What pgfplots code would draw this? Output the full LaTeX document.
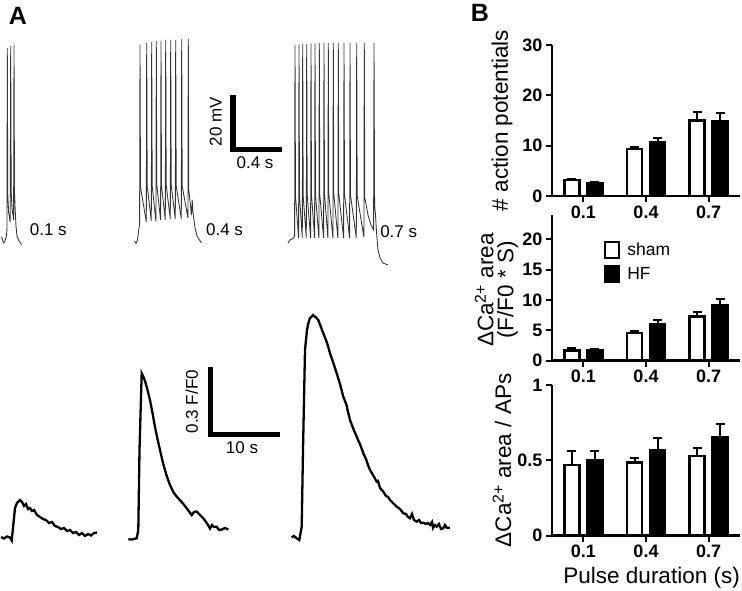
\documentclass[border=0pt]{standalone}
\usepackage{fontspec}
\setmainfont{Liberation Sans}
\usepackage{pgfplots}
\pgfplotsset{compat=1.18}

% shared look of the three bar panels in B
\pgfplotsset{
  barax/.style={
    scale only axis, width=188pt, anchor=south west,
    xmin=-0.5, xmax=2.5, ymin=0,
    axis x line*=bottom, axis y line*=left,
    axis line style={line width=2.5pt, black, -},
    xtick={0,1,2}, xticklabels={0.1,0.4,0.7},
    tick align=outside, major tick length=6pt,
    every tick/.style={black, line width=2pt},
    ticklabel style={font=\bfseries\fontsize{18}{18}\selectfont},
    /pgf/number format/assume math mode=true,
    ybar=8pt, bar width=15pt,
    label style={font=\fontsize{22.5}{20}\selectfont},
    ylabel style={at={(axis description cs:-0.266,0.5)}, anchor=center, align=center},
    clip=false,
  },
  sham/.style={fill=white, draw=black, line width=2.5pt,
    error bars/.cd, y dir=plus, y explicit,
    error bar style={line width=2pt, black},
    error mark options={rotate=90, mark size=4.5pt, line width=2pt, black}},
  hf/.style={fill=black, draw=black, line width=2.5pt,
    error bars/.cd, y dir=plus, y explicit,
    error bar style={line width=2pt, black},
    error mark options={rotate=90, mark size=4.5pt, line width=2pt, black}},
}

\begin{document}
\begin{tikzpicture}
\useasboundingbox (0,0) rectangle (742pt,591pt);

% ---- panel A: traces, in pixel units of the figure ----
\begin{axis}[at={(0,0)}, anchor=south west, scale only axis,
  width=742pt, height=591pt, xmin=0, xmax=742, ymin=0, ymax=591,
  y dir=reverse, hide axis, clip=false]

% action potentials, 0.1 s
\addplot[black!80, line width=0.85pt] coordinates {
 (1.5,237) (3.5,243) (5,241) (6.5,236) (7,228) (7.3,48) (7.8,195) (8.6,212)
 (10.2,222) (10.7,46) (11.2,192) (12,208) (13.6,220) (14,45) (14.5,192)
 (15.2,210) (16,226) (17,236) (18.5,240) (20.5,243) (21.5,245)};
% action potentials, 0.4 s
\addplot[black!80, line width=0.85pt] coordinates {
 (134.5,241) (136,243.5) (137.5,240) (138.5,232) (139.6,224) (140,45) (140.5,187)
 (146.3,222) (146.7,43) (147.2,186)
 (151.3,221) (151.7,42) (152.2,186)
 (155.9,221) (156.3,41) (156.8,185)
 (160.6,220) (161,41) (161.5,185)
 (165.3,220) (165.7,40) (166.2,185)
 (170.3,219) (170.7,40) (171.2,185)
 (175.3,219) (175.7,40) (176.2,186)
 (181.3,219) (181.7,39) (182.2,186)
 (187.9,218) (188.3,39) (188.8,190)
 (191.5,215) (192.2,200) (193,212) (195,228) (197,236) (199.5,240) (201.5,243)};
% action potentials, 0.7 s
\addplot[black!80, line width=0.85pt] coordinates {
 (288,243) (290,240) (292,239) (293.5,238) (294.6,236) (295,45) (295.5,196)
 (298.6,238) (299,44.5) (299.5,196)
 (302.3,238) (302.7,44) (303.2,196)
 (306.3,238) (306.7,44) (307.2,195)
 (310.6,238) (311,43.5) (311.5,195)
 (314.6,238) (315,43.5) (315.5,195)
 (318.9,238) (319.3,43) (319.8,195)
 (323.6,238) (324,43) (324.5,194)
 (327.9,238) (328.3,43) (328.8,194)
 (332.9,238) (333.3,43) (333.8,194)
 (337.9,238) (338.3,43) (338.8,194)
 (343.6,238) (344,43) (344.5,194)
 (349.6,238) (350,43) (350.5,195)
 (356.3,238) (356.7,43) (357.2,196)
 (363.9,237) (364.3,43) (364.8,198)
 (368,215) (371,225) (373.6,230) (374,43) (374.6,205)
 (375.5,215) (376.5,232) (378,250) (380,258) (383,263) (388,265)};

% calcium transients
\addplot[black, line width=2.3pt] coordinates {
 (1,537) (4,538.5) (7,536.5) (10,537.5) (11.7,540.5) (13,528) (15,508) (17,503)
 (20,500) (22,502) (24,506) (26,504) (28,509) (30,508) (32,511) (34,510) (37,515)
 (40,517) (43,519) (46,520) (49,523) (52,522) (55,526) (58,527) (61,529) (64,528)
 (67,531) (70,530) (73,533) (76,532) (79,535) (82,533) (85,536) (88,534)
 (91,535.5) (94,533) (97,532.5)};
\addplot[black, line width=2.3pt] coordinates {
 (128.3,539.3) (132,539.5) (136.7,538.3) (138.3,530) (139.5,450) (141.7,373.3)
 (143.5,377) (145,381) (147,388) (150,400) (152.5,413) (155,427) (157.5,439)
 (160,450) (163,463) (166.7,476) (170,485) (173.3,492) (177,497) (181.7,502)
 (185,506) (188,510) (191.7,515) (194,512) (196.7,511.5) (200,515) (203.3,518.3)
 (206,522) (208,525) (210,528.5) (212,525) (214,527) (216.7,526.7) (219,530)
 (221.7,529.5) (225,528) (228.3,529.5)};
\addplot[black, line width=2.3pt] coordinates {
 (291.7,537.3) (294,536) (296.7,538.3) (299.3,540) (301.7,526.7) (303,450)
 (305,350) (307,330) (308.3,323.3) (310,318) (311.7,316.7) (313,315) (315,316.7)
 (316.5,318) (318.3,320) (320.5,326) (323.3,333.3) (326,340) (328,346) (330,353.3)
 (333,362) (336.7,373.3) (340,384) (343.3,396.7) (345,401) (346.5,405) (348,412)
 (350,420) (353,428) (356.7,436.7) (358.5,441) (360,444) (363.3,453.3) (366,459)
 (368,465) (370,470) (373,475) (376.7,481.7) (378,481) (380,488) (383.3,491.7)
 (386,496) (388,497) (390,500) (393,503) (396.7,506.7) (400,509) (403.3,513.3)
 (406,514) (408,517) (410,518.3) (412,514) (414,520) (416.7,521.7) (419,520)
 (421,523) (423.3,522.7) (426,524) (428,523) (430,525) (432,522) (433,528)
 (435,525) (436.7,526.7) (439,524) (441,529) (443.3,528.3) (445,525) (447,528)
 (450,527.7)};

% scale bars
\addplot[black, line width=5.5pt, line cap=butt, line join=miter] coordinates {
 (233,95) (233,149.7) (282,149.7)};
\addplot[black, line width=4.5pt, line cap=butt, line join=miter] coordinates {
 (210.3,366.7) (210.3,434.5) (280,434.5)};

\node[font=\bfseries\fontsize{25}{25}\selectfont] at (axis cs:18,15.5) {A};
\node[font=\bfseries\fontsize{25}{25}\selectfont] at (axis cs:480,13) {B};
\node[font=\fontsize{17}{17}\selectfont] at (axis cs:48.3,230) {0.1 s};
\node[font=\fontsize{17}{17}\selectfont] at (axis cs:224.5,230) {0.4 s};
\node[font=\fontsize{17}{17}\selectfont] at (axis cs:398.7,231.7) {0.7 s};
\node[font=\fontsize{17}{17}\selectfont, rotate=90] at (axis cs:215.8,121.7) {20 mV};
\node[font=\fontsize{17}{17}\selectfont] at (axis cs:255,163) {0.4 s};
\node[font=\fontsize{17}{17}\selectfont, rotate=90] at (axis cs:191.7,401.7) {0.3 F/F0};
\node[font=\fontsize{17}{17}\selectfont] at (axis cs:242,448) {10 s};
\end{axis}

% ---- panel B, top: number of action potentials ----
\begin{axis}[barax, at={(552pt,395pt)}, height=151pt, ymax=30,
  ytick={0,10,20,30}, ylabel={\# action potentials}]
\addplot[sham] coordinates {(0,3.2) +- (0,0.15) (1,9.3) +- (0,0.5) (2,15.0) +- (0,1.7)};
\addplot[hf] coordinates {(0,2.6) +- (0,0.2) (1,10.7) +- (0,0.9) (2,14.8) +- (0,1.6)};
\end{axis}

% ---- panel B, middle: Ca2+ area ----
\begin{axis}[barax, at={(552pt,230.3pt)}, height=145.7pt, ymax=24,
  ytick={0,5,10,15,20},
  ylabel style={at={(axis description cs:-0.295,0.485)}},
  ylabel={ΔCa\textsuperscript{2+} area\\(F/F0 * S)},
  legend style={draw=none, fill=none, at={(0.26,0.835)}, anchor=north west,
    font=\fontsize{17.5}{17.5}\selectfont, row sep=6pt},
  legend cell align=left,
  legend image code/.code={\draw[#1, line width=2pt] (0pt,-8pt) rectangle (14pt,8pt); \path (19pt,0pt);}]
\addplot[sham] coordinates {(0,1.65) +- (0,0.4) (1,4.6) +- (0,0.25) (2,7.25) +- (0,0.75)};
\addlegendentry{sham}
\addplot[hf] coordinates {(0,1.75) +- (0,0.15) (1,6.05) +- (0,0.65) (2,9.2) +- (0,0.9)};
\addlegendentry{HF}
\end{axis}

% ---- panel B, bottom: Ca2+ area per AP ----
\begin{axis}[barax, at={(552pt,55.3pt)}, height=150.7pt, ymax=1,
  ytick={0,0.5,1}, yticklabels={0,0.5,1},
  ylabel={ΔCa\textsuperscript{2+} area / APs},
  xlabel={Pulse duration (s)},
  xlabel style={at={(axis description cs:0.53,-0.28)}, anchor=center}]
\addplot[sham] coordinates {(0,0.47) +- (0,0.095) (1,0.487) +- (0,0.031) (2,0.53) +- (0,0.055)};
\addplot[hf] coordinates {(0,0.50) +- (0,0.065) (1,0.57) +- (0,0.075) (2,0.655) +- (0,0.085)};
\end{axis}
\end{tikzpicture}
\end{document}
